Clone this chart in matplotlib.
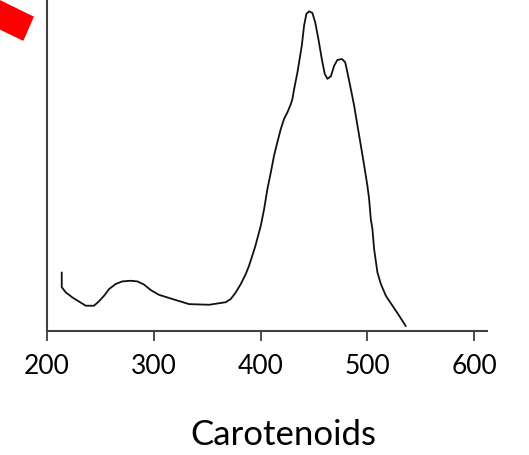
import matplotlib.pyplot as plt
from matplotlib.patches import Polygon

# absorption spectrum
wavelength = [213.8, 213.8, 217.5, 223.7, 230.0, 236.3, 244.0, 248.7, 253.4, 258.1,
              264.4, 270.5, 278.4, 284.6, 290.9, 297.1, 304.9, 317.4, 333.0, 351.8,
              367.4, 372.1, 376.8, 381.5, 386.1, 389.2, 394.8, 400.2, 403.3, 406.4,
              409.6, 412.6, 415.7, 418.9, 422.0, 425.1, 428.3, 429.8, 431.4, 434.5,
              438.6, 440.7, 442.9, 445.4, 448.5, 451.1, 454.1, 457.3, 460.1, 462.6,
              465.8, 468.9, 471.9, 476.1, 479.2, 481.3, 484.5, 487.6, 490.7, 493.9,
              497.0, 500.0, 501.6, 503.2, 504.7, 506.3, 509.4, 512.6, 517.3, 523.5,
              529.7, 536.0]
absorbance = [0.183, 0.137, 0.121, 0.105, 0.092, 0.079, 0.079, 0.093, 0.110, 0.131,
              0.147, 0.155, 0.157, 0.155, 0.145, 0.128, 0.113, 0.100, 0.084, 0.082,
              0.090, 0.100, 0.121, 0.147, 0.178, 0.204, 0.262, 0.329, 0.381, 0.444,
              0.496, 0.548, 0.590, 0.631, 0.663, 0.683, 0.709, 0.725, 0.756, 0.808,
              0.892, 0.954, 0.991, 0.999, 0.994, 0.965, 0.913, 0.850, 0.803, 0.788,
              0.796, 0.829, 0.847, 0.850, 0.840, 0.808, 0.756, 0.704, 0.642, 0.579,
              0.517, 0.454, 0.413, 0.350, 0.319, 0.256, 0.183, 0.147, 0.110, 0.079,
              0.048, 0.015]
xticks = [200, 300, 400, 500, 600]

plt.rcParams['font.family'] = ['Lato', 'DejaVu Sans']

fig = plt.figure(figsize=(5.29, 4.56), dpi=100)
ax = fig.add_axes([47 / 529, 124 / 456, 440 / 529, 332 / 456])

ax.plot(wavelength, absorbance, color='#111111', lw=1.3,
        solid_joinstyle='round', solid_capstyle='round')
ax.set_xlim(200, 612)
ax.set_ylim(0, 1.0375)

ax.set_xticks(xticks)
ax.set_yticks([])
ax.tick_params(axis='x', length=7, width=1.3, color='#404040',
               labelsize=19, pad=9)
for s in ['top', 'right']:
    ax.spines[s].set_visible(False)
for s in ['left', 'bottom']:
    ax.spines[s].set_color('#404040')
    ax.spines[s].set_linewidth(1.5)

fig.text(283 / 529, 1 - 435 / 456, 'Carotenoids', ha='center', va='center',
         fontsize=25)

# red arrow tail in the corner
pts = [(-10, -3), (33, 18), (23, 41), (-10, 25)]
fig.patches.append(Polygon([(x / 529, 1 - y / 456) for x, y in pts],
                           closed=True, color='red', transform=fig.transFigure))

fig.savefig('out.png', dpi=100)
